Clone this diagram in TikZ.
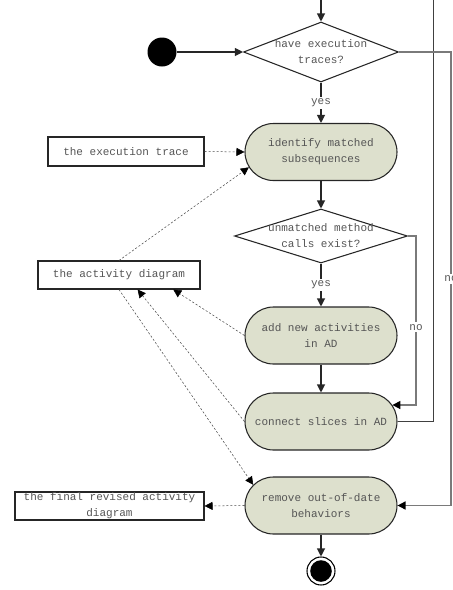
\documentclass[tikz,border=0pt]{standalone}
\usepackage{fontspec}
\setmonofont{Liberation Mono}
\usetikzlibrary{arrows.meta,shapes.geometric,shapes.misc}
\definecolor{actfill}{HTML}{DDE0CD}
\definecolor{txt}{HTML}{555555}
\definecolor{noline}{HTML}{7A7A7A}
\begin{document}
\begin{tikzpicture}[x=0.75pt,y=-0.75pt,
  every node/.style={font=\ttfamily\fontsize{8.25}{12}\selectfont, text=txt},
  act/.style={rounded rectangle, draw=black!85, line width=0.8pt, fill=actfill,
    minimum width=114pt, minimum height=42.75pt, align=center, inner sep=0pt},
  dec/.style={diamond, draw=black!85, line width=0.8pt, fill=white, inner sep=0pt},
  obj/.style={rectangle, draw=black!85, line width=0.8pt, fill=white, align=center, inner sep=0pt},
  flow/.style={draw=black!85, line width=0.8pt, -{Triangle[length=6pt,width=6pt]}},
  noflow/.style={draw=noline, line width=1.1pt, -{Triangle[length=6pt,width=6pt,color=black]}},
  loopline/.style={draw=black!75, line width=0.75pt},
  objflow/.style={draw=black!70, line width=0.4pt, dash pattern=on 1.6pt off 1.4pt, -{Triangle[length=6pt,width=6pt,color=black]}},
  lbl/.style={fill=white, inner sep=1.5pt}
]
\useasboundingbox (0,0) rectangle (453,590);

% nodes
\node[circle, fill=black, minimum size=21.75pt, inner sep=0pt] (start) at (162,52) {};
\node[dec, minimum width=116.25pt, minimum height=45pt,
  label={[align=center]center:have execution\\traces?}] (d1) at (321,52) {};
\node[act] (id) at (321,152) {identify matched\\subsequences};
\node[dec, minimum width=129.75pt, minimum height=40.5pt,
  label={[align=center]center:unmatched method\\calls exist?}] (d2) at (321,236) {};
\node[act] (add) at (321,335.5) {add new activities\\in AD};
\node[act] (con) at (321,421.5) {connect slices in AD};
\node[act] (rm) at (321,505.5) {remove out-of-date\\behaviors};
\node[circle, draw=black, line width=0.8pt, fill=white, minimum size=21pt, inner sep=0pt,
  path picture={\fill[black] (path picture bounding box.center) circle (8.1pt);}] (end) at (321,571) {};

\node[obj, minimum width=117pt, minimum height=21.75pt] (ex) at (126,151.5) {the execution trace};
\node[obj, minimum width=121.5pt, minimum height=21pt] (ad) at (119,275) {the activity diagram};
\node[obj, minimum width=141.75pt, minimum height=21pt] (fin) at (109.5,506) {the final revised activity\\diagram};

\coordinate (in) at (321,0);
\coordinate (loop) at (433,0);
\coordinate (c1) at (451,52);
\coordinate (c2) at (416,236);
\coordinate (c3) at (433,421.5);

% control flow
\draw[flow] (in) -- (d1.north);
\draw[flow] (start) -- (d1.west);
\draw[flow] (d1.south) -- node[lbl] {yes} (id.north);
\draw[flow] (id.south) -- (d2.north);
\draw[flow] (d2.south) -- node[lbl] {yes} (add.north);
\draw[flow] (add.south) -- (con.north);
\draw[flow] (rm.south) -- (end.north);
\draw[loopline] (con.east) -- (c3) -- (loop);
\draw[noflow] (d1.east) -- (c1) |- node[lbl, pos=0.25] {no} (rm.east);
\draw[noflow] (d2.east) -- (c2) |- node[lbl, pos=0.27] {no} (con.13);

% object flow
\draw[objflow] (ex.east) -- (id.west);
\draw[objflow] (ad.north) -- (id.192);
\draw[objflow] (add.west) -- (ad.345);
\draw[objflow] (con.west) -- (ad.322);
\draw[objflow] (ad.south) -- (rm.163);
\draw[objflow] (rm.west) -- (fin.east);
\end{tikzpicture}
\end{document}
